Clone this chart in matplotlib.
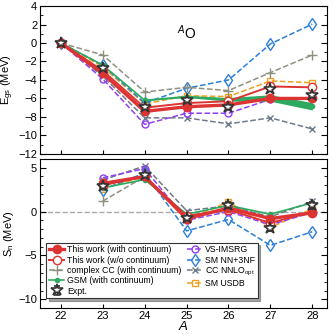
import numpy as np
import matplotlib
matplotlib.use("Agg")
import matplotlib.pyplot as plt

plt.rcParams['font.family'] = ['Liberation Sans', 'DejaVu Sans']
plt.rcParams['mathtext.fontset'] = 'custom'
plt.rcParams['mathtext.rm'] = 'Liberation Sans'
plt.rcParams['mathtext.it'] = 'Liberation Sans:italic'

# mass numbers
A = [22, 23, 24, 25, 26, 27, 28]
A_sn = [23, 24, 25, 26, 27, 28]

# ground state energies (MeV)
e_work = [0, -3.3, -7.4, -6.9, -6.7, -6.0, -6.0]
e_work_nocont = [0, -3.0, -7.0, -6.5, -6.3, -4.7, -4.8]
e_ccc = [0, -1.3, -5.3, -4.8, -5.15, -3.2, -1.3]
e_gsm = [0, -2.4, -6.2, -5.8, -6.1, -5.95, -6.85]
e_gsm_lo = [0, -2.4, -6.25, -5.9, -6.3, -6.3, -7.25]
e_gsm_hi = [0, -2.4, -6.15, -5.7, -5.9, -5.6, -6.45]
e_imsrg = [0, -3.9, -8.8, -7.6, -7.6, -6.1, -5.95]
e_nn3nf = [0, -2.4, -6.5, -4.9, -4.0, -0.1, 2.05]
e_nnlo = [0, -3.6, -8.1, -8.1, -8.75, -8.1, -9.3]
e_usdb = [0, -2.6, -6.6, -5.7, -5.8, -4.1, -4.3]
e_expt = [0, -2.75, -6.95, -6.15, -6.9, -5.0, -5.6]

# one-neutron separation energies (MeV)
s_work = [3.2, 4.0, -0.8, 0.4, -0.8, -0.15]
s_work_nocont = [3.0, 4.0, -0.5, 0.2, -1.3, 0.0]
s_ccc = [1.2, 4.0, -0.5, 0.35]
s_gsm = [2.7, 3.65, -0.3, 0.7, -0.3, 1.0]
s_imsrg = [3.85, 4.9, -1.0, 0.0, -1.5, -0.1]
s_nn3nf = [2.5, 4.4, -2.2, -0.9, -3.85, -2.3]
s_nnlo = [3.6, 5.2, 0.1, 0.65, -0.6, 1.15]
s_usdb = [2.6, 4.0, -0.9, 1.1, -1.8, 0.3]
s_expt = [2.9, 4.2, -0.75, 0.75, -1.9, 0.7]
s_expt_err = [0.2, 0.2, 0.2, 0.3, 0.3, 0.4]

red = '#dd3333'
c_ccc = '#8f8f80'
c_gsm = '#2eaa60'
c_imsrg = '#9040f0'
c_nn3nf = '#2a7fd8'
c_nnlo = '#6e7b8b'
c_usdb = '#f0a020'

fig = plt.figure(figsize=(3.36, 3.36), dpi=100)
ax1 = fig.add_axes([0.119, 0.542, 0.854, 0.44])
ax2 = fig.add_axes([0.119, 0.083, 0.854, 0.444])


def draw(ax, x, work, nocont, ccc, gsm, imsrg, nn3nf, nnlo, usdb, expt, xc, err=None):
    ax.plot(x, usdb, '--', color=c_usdb, marker='s', mfc='none', ms=5, lw=1.1, label='SM USDB', zorder=3)
    ax.plot(x, nnlo, '--', color=c_nnlo, marker='x', ms=5, lw=1.1, label='CC NNLO$_{\\rm opt}$', zorder=3)
    ax.plot(x, nn3nf, '--', color=c_nn3nf, marker='d', mfc='none', ms=6, lw=1.1, label='SM NN+3NF', zorder=3)
    ax.plot(x, imsrg, '--', color=c_imsrg, marker='o', mfc='none', ms=5, lw=1.1, label='VS-IMSRG', zorder=3)
    ax.plot(xc, ccc, '--', color=c_ccc, marker='+', ms=7, lw=1.1, label='complex CC (with continuum)', zorder=3)
    ax.plot(x, gsm, '-', color=c_gsm, marker='o', ms=3, lw=1.2, label='GSM (with continuum)', zorder=4)
    ax.plot(x, nocont, '-', color=red, marker='o', mfc='white', ms=6, lw=1.4, label='This work (w/o continuum)', zorder=5)
    ax.plot(x, work, '-', color=red, marker='o', ms=6, lw=2.4, label='This work (with continuum)', zorder=6)
    if err is None:
        ax.plot(x, expt, ls='none', marker='*', ms=9, mfc='white', mec='#333333', mew=1.2,
                label='Expt.', zorder=7)
    else:
        ax.errorbar(x, expt, yerr=err, fmt='*', ms=9, mfc='white', mec='#333333', mew=1.2,
                    ecolor='#333333', elinewidth=1, capsize=2, label='Expt.', zorder=7)


draw(ax1, A, e_work, e_work_nocont, e_ccc, e_gsm, e_imsrg, e_nn3nf, e_nnlo, e_usdb, e_expt, A)
ax1.fill_between(A[2:], e_gsm_lo[2:], e_gsm_hi[2:], color=c_gsm, lw=0, zorder=4)

draw(ax2, A_sn, s_work, s_work_nocont, s_ccc, s_gsm, s_imsrg, s_nn3nf, s_nnlo, s_usdb, s_expt,
     A_sn[:len(s_ccc)], err=s_expt_err)
ax2.axhline(0, color='#aaaaaa', ls='--', lw=1, zorder=1)

ax1.text(25.0, 1.1, '$^{A}$O', fontsize=10, ha='center', va='center')

for ax in (ax1, ax2):
    ax.set_xlim(21.5, 28.35)
    ax.set_xticks(A)
    ax.tick_params(direction='in', which='both', right=True, labelsize=8, pad=2)
    ax.tick_params(which='major', length=4)
    ax.tick_params(which='minor', length=2)
    ax.tick_params(axis='x', which='major', length=3)

ax1.set_ylim(-12, 4)
ax1.set_yticks(np.arange(-12, 5, 2))
ax1.set_yticks(np.arange(-12, 5, 1), minor=True)
ax1.set_xticklabels([])
ax1.set_ylabel('E$_{\\rm gs}$ (MeV)', fontsize=8)
ax1.yaxis.set_label_coords(-0.082, 0.5)

ax2.set_ylim(-11, 6)
ax2.set_yticks([-10, -5, 0, 5])
ax2.set_yticks(np.arange(-11, 7, 1), minor=True)
ax2.set_ylabel('S$_{\\rm n}$ (MeV)', fontsize=8)
ax2.yaxis.set_label_coords(-0.082, 0.5)
ax2.set_xlabel('$A$', fontsize=9.5, labelpad=-1)

h, l = ax2.get_legend_handles_labels()
order = ['This work (with continuum)', 'This work (w/o continuum)', 'complex CC (with continuum)',
         'GSM (with continuum)', 'Expt.', 'VS-IMSRG', 'SM NN+3NF', 'CC NNLO$_{\\rm opt}$', 'SM USDB']
hh = [h[l.index(o)] for o in order]
leg = ax2.legend(hh, order, loc='lower left', bbox_to_anchor=(0.015, 0.055), ncol=2, fontsize=6.3,
                 frameon=True, fancybox=False, shadow=True, edgecolor='#333333', framealpha=1,
                 handlelength=1.8, handletextpad=0.3, columnspacing=0.6, labelspacing=0.15,
                 borderpad=0.3, borderaxespad=0.2)
leg.get_frame().set_linewidth(0.8)
leg.set_zorder(10)

plt.savefig('out.png', dpi=100)
